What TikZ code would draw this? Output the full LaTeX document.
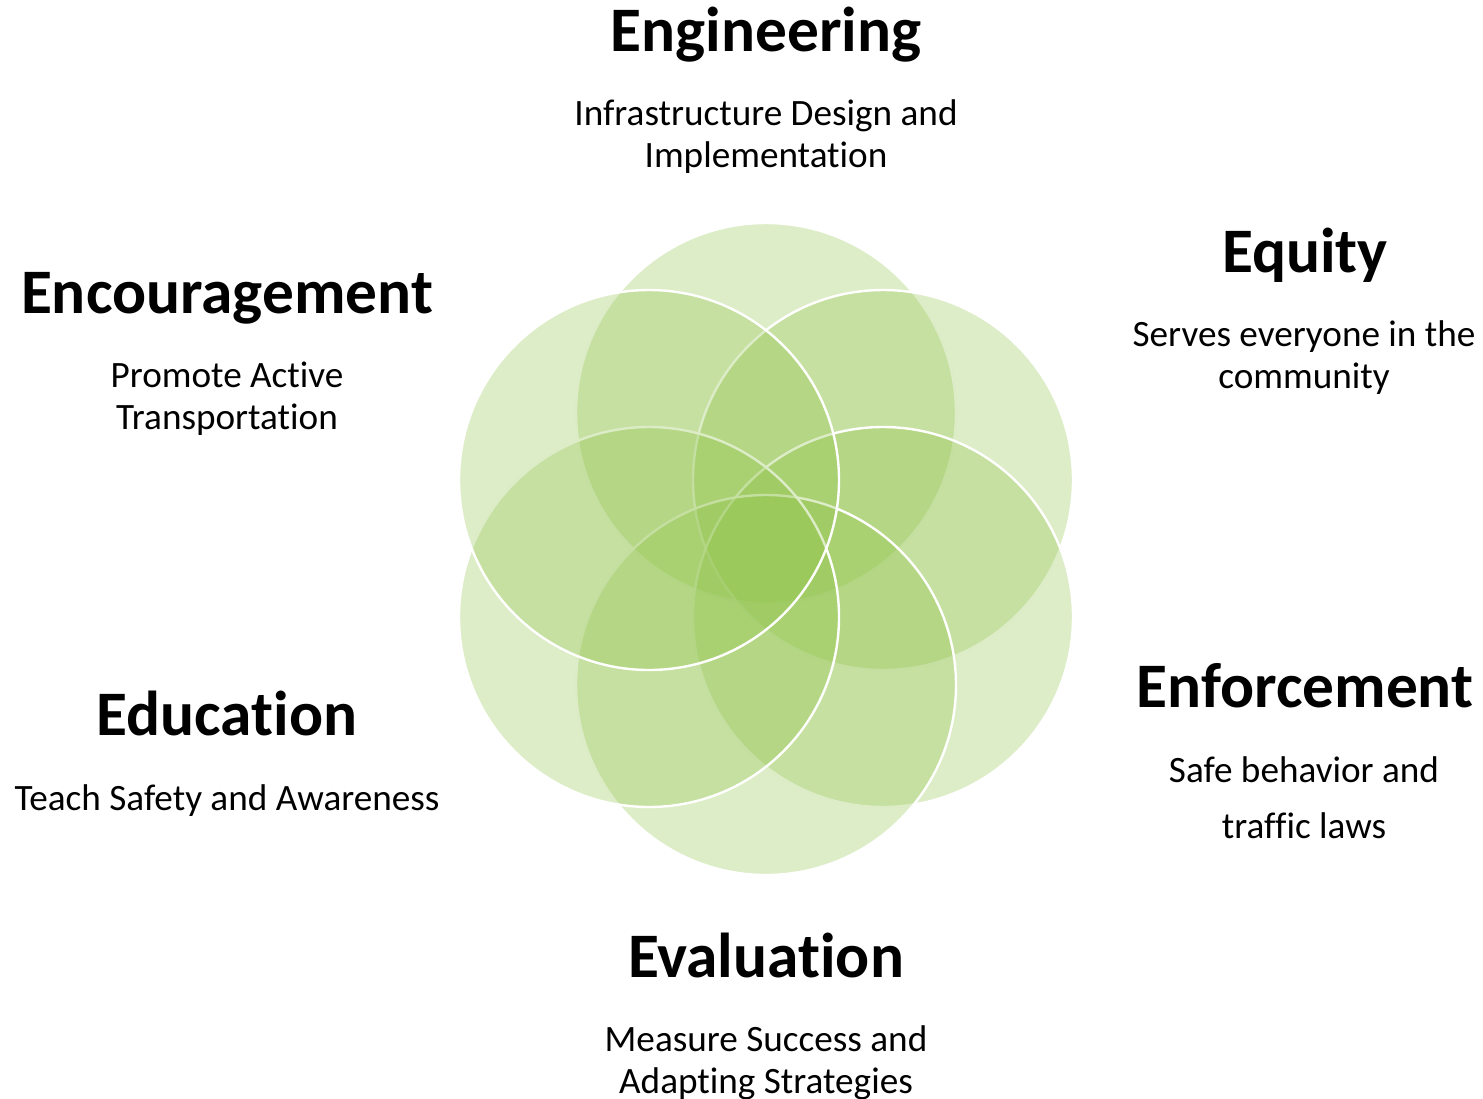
\documentclass[tikz,border=0pt]{standalone}
\usepackage{fontspec}
\setmainfont{Carlito}[Ligatures=NoCommon]
\definecolor{leafgreen}{RGB}{142,194,70}
\begin{document}
\begin{tikzpicture}[x=0.5pt,y=-0.5pt,
    petal/.style={fill=leafgreen,fill opacity=0.3,draw=white,line width=1.2pt},
    heading/.style={anchor=base,font=\fontsize{31.7}{37}\selectfont\bfseries},
    caption/.style={anchor=base,align=center,font=\fontsize{18.6}{21}\selectfont}]
      \useasboundingbox (0,0) rectangle (1483,1098);
      % six overlapping circles, clockwise from the top
      \filldraw[petal] (766,413) circle[radius=190];
      \filldraw[petal] (883,480) circle[radius=190];
      \filldraw[petal] (883,617) circle[radius=190];
      \filldraw[petal] (766,685) circle[radius=190];
      \filldraw[petal] (649,617) circle[radius=190];
      \filldraw[petal] (649,480) circle[radius=190];
      % captions sit on the baseline of their last line
      \node[heading] (engineering) at (766,51) {Engineering};
      \node[caption] (engineeringtxt) at (766,167) {Infrastructure Design and\\Implementation};
      \node[heading] (equity) at (1305,272) {Equity};
      \node[caption] (equitytxt) at (1304,388) {Serves everyone in the\\community};
      \node[heading] (encouragement) at (227,313) {Encouragement};
      \node[caption] (encouragementtxt) at (227,429) {Promote Active\\Transportation};
      \node[heading] (education) at (227,735) {Education};
      \node[caption] (educationtxt) at (227,810) {Teach Safety and Awareness};
      \node[heading] (enforcement) at (1305,707) {Enforcement};
      \node[caption,font=\fontsize{18.6}{28}\selectfont] (enforcementtxt) at (1304,838) {Safe behavior and\\traffic laws};
      \node[heading] (evaluation) at (766,977) {Evaluation};
      \node[caption] (evaluationtxt) at (766,1093) {Measure Success and\\Adapting Strategies};
    \end{tikzpicture}
\end{document}
